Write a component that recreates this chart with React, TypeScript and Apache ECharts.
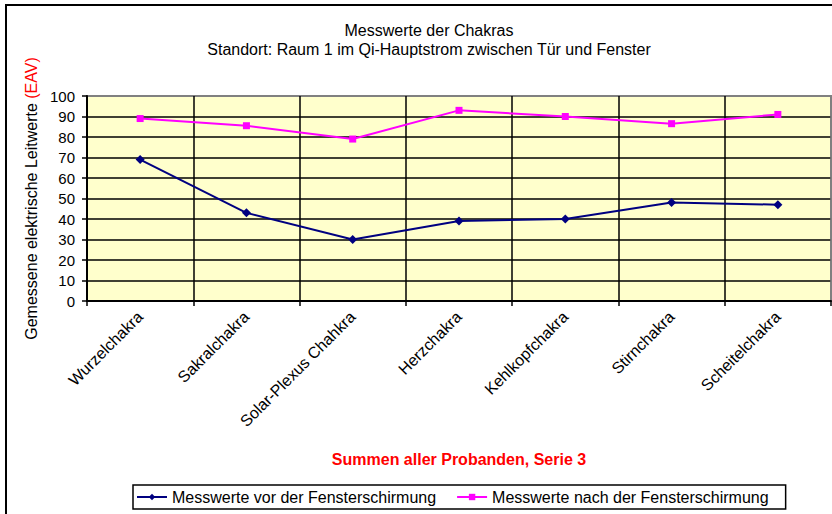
import React, { useEffect, useRef } from 'react';
import * as echarts from 'echarts';

const categories = [
  'Wurzelchakra',
  'Sakralchakra',
  'Solar-Plexus Chahkra',
  'Herzchakra',
  'Kehlkopfchakra',
  'Stirnchakra',
  'Scheitelchakra',
];
const vorValues = [69, 43, 30, 39, 40, 48, 47];
const nachValues = [89, 85.5, 79, 93, 90, 86.5, 91];
const seriesNames = ['Messwerte vor der Fensterschirmung', 'Messwerte nach der Fensterschirmung'];
const titleLines = ['Messwerte der Chakras', 'Standort: Raum 1 im Qi-Hauptstrom zwischen Tür und Fenster'];
const yAxisTitle = 'Gemessene elektrische Leitwerte ';
const yAxisUnit = '(EAV)';
const xAxisTitle = 'Summen aller Probanden, Serie 3';

const FONT = '"Liberation Sans", Arial, sans-serif';

export default function App() {
  const ref = useRef<HTMLDivElement>(null);
  useEffect(() => {
    document.body.style.margin = '0';
    const chart = echarts.init(ref.current!, null, { renderer: 'svg' });
    const ySplitColors = Array.from({ length: 11 }, (_, i) => (i === 10 ? '#808080' : '#000000'));
    const xSplitColors = Array.from({ length: 8 }, (_, i) => (i === 7 ? '#808080' : '#000000'));
    chart.setOption({
      animation: false,
      backgroundColor: '#ffffff',
      textStyle: { fontFamily: FONT },
      title: {
        text: titleLines.join('\n'),
        left: 424,
        top: 16,
        textAlign: 'center',
        textStyle: { fontSize: 16, fontWeight: 'normal', color: '#000', lineHeight: 19, fontFamily: FONT },
      },
      graphic: [
        {
          type: 'rect',
          shape: { x: 6, y: 5, width: 900, height: 600 },
          style: { fill: 'none', stroke: '#000', lineWidth: 2 },
          silent: true,
          z: 100,
        },
      ],
      legend: {
        left: 133,
        top: 485,
        orient: 'horizontal',
        padding: [4, 17, 4, 3],
        itemWidth: 30,
        itemHeight: 8,
        itemGap: 20,
        borderColor: '#000',
        borderWidth: 1.5,
        backgroundColor: '#fff',
        textStyle: { fontSize: 16, color: '#000', fontFamily: FONT },
        data: seriesNames,
      },
      grid: {
        left: 87,
        top: 96,
        right: 1,
        bottom: 213,
        show: true,
        backgroundColor: '#FFFFCC',
        borderColor: '#808080',
        borderWidth: 2,
      },
      xAxis: {
        type: 'category',
        data: categories,
        boundaryGap: true,
        name: xAxisTitle,
        nameLocation: 'middle',
        nameGap: 150,
        nameTextStyle: { color: '#ff0000', fontWeight: 'bold', fontSize: 16, fontFamily: FONT },
        axisLine: { show: true, lineStyle: { color: '#000', width: 2 } },
        axisTick: { show: true, length: 5, lineStyle: { color: '#000', width: 1.5 } },
        splitLine: { show: true, lineStyle: { color: xSplitColors, width: 1.5 } },
        axisLabel: { interval: 0, rotate: 45, fontSize: 16, color: '#000', margin: 13, fontFamily: FONT },
      },
      yAxis: {
        type: 'value',
        min: 0,
        max: 100,
        interval: 10,
        name: yAxisTitle + '{r|' + yAxisUnit + '}',
        nameLocation: 'middle',
        nameRotate: 90,
        nameGap: 46,
        nameTextStyle: {
          color: '#000',
          fontSize: 16,
          fontFamily: FONT,
          rich: { r: { color: '#ff0000', fontSize: 16, fontFamily: FONT } },
        },
        axisLine: { show: true, lineStyle: { color: '#000', width: 2 } },
        axisTick: { show: true, length: 5, lineStyle: { color: '#000', width: 1.5 } },
        splitLine: { show: true, lineStyle: { color: ySplitColors, width: 1.5 } },
        axisLabel: { fontSize: 15, color: '#000', margin: 12, fontFamily: FONT },
      },
      series: [
        {
          name: seriesNames[0],
          type: 'line',
          data: vorValues,
          symbol: 'diamond',
          symbolSize: 9,
          itemStyle: { color: '#000080' },
          lineStyle: { color: '#000080', width: 2 },
          z: 5,
        },
        {
          name: seriesNames[1],
          type: 'line',
          data: nachValues,
          symbol: 'rect',
          symbolSize: 7,
          itemStyle: { color: '#FF00FF' },
          lineStyle: { color: '#FF00FF', width: 2 },
          z: 4,
        },
      ],
    });
    return () => chart.dispose();
  }, []);
  return <div ref={ref} style={{ width: 832, height: 514, position: 'absolute', left: 0, top: 0 }} />;
}
